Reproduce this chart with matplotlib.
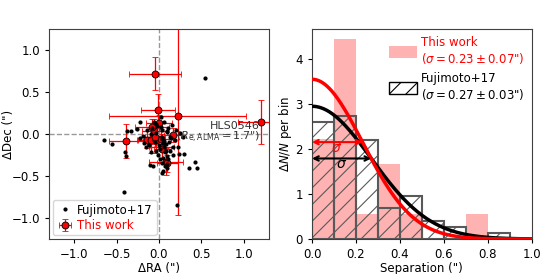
import numpy as np
import matplotlib
matplotlib.use("Agg")
import matplotlib.pyplot as plt
from matplotlib.patches import Patch

# ---------------- data ----------------
# Fujimoto+17 offsets (RA, Dec) in arcsec
fuji_ra = [0.54, -0.41, 0.21, -0.65, -0.56, -0.40, -0.39, -0.22, -0.38, -0.33,
           -0.26, -0.11, -0.07, 0.03, 0.05, 0.09, 0.25, 0.28, 0.23, 0.24,
           0.30, 0.36, 0.43, 0.45, 0.15, 0.11, 0.06, -0.06, -0.19, -0.23,
           -0.18, -0.12, -0.09, -0.03, 0.01, 0.07, 0.09, 0.11, 0.13, 0.17,
           0.03, 0.05, -0.03, -0.08, -0.14, 0.09, 0.13, 0.19, 0.00, 0.03,
           0.07, -0.02, 0.04, 0.06, 0.08, -0.05, 0.02, 0.10, 0.12, -0.10,
           0.05, 0.01, -0.01, 0.14, 0.20, -0.15, 0.06, 0.02, 0.08, -0.04,
           0.16, 0.10, 0.04]
fuji_dec = [0.67, -0.69, -0.85, -0.07, -0.12, -0.22, -0.26, 0.14, 0.04, 0.04,
            0.06, -0.37, -0.38, -0.46, -0.44, -0.41, 0.01, -0.04, -0.15, -0.24,
            -0.24, -0.41, -0.33, -0.41, 0.11, 0.07, 0.14, 0.14, -0.02, -0.05,
            -0.11, -0.13, -0.22, -0.20, -0.18, -0.22, -0.26, -0.30, -0.20, -0.15,
            -0.03, -0.11, 0.01, 0.07, 0.05, 0.03, -0.03, -0.07, -0.13, -0.34,
            -0.38, 0.10, 0.05, -0.08, -0.12, -0.10, 0.20, 0.02, -0.10, 0.00,
            -0.28, -0.30, -0.25, -0.05, 0.05, -0.16, -0.16, 0.08, -0.20, 0.12,
            -0.25, -0.36, -0.06]

# This work offsets with errors
tw_ra = [-0.05, -0.015, 0.22, 1.20, -0.39, 0.16, 0.00, -0.055, -0.145, -0.10,
         -0.04, 0.02, 0.03, 0.04, 0.08, -0.05, -0.08, 0.10]
tw_dec = [0.72, 0.29, 0.22, 0.14, -0.08, -0.01, 0.13, 0.03, -0.07, -0.075,
          -0.075, -0.06, -0.15, -0.18, -0.33, -0.03, 0.08, -0.35]
tw_raerr = [0.31, 0.20, 0.81, 0.27, 0.20, 0.10, 0.15, 0.15, 0.12, 0.15,
            0.10, 0.12, 0.15, 0.10, 0.20, 0.12, 0.20, 0.12]
tw_decerr = [0.20, 0.19, 1.19, 0.26, 0.20, 0.08, 0.10, 0.15, 0.10, 0.15,
             0.15, 0.12, 0.15, 0.12, 0.16, 0.12, 0.10, 0.10]

# Histograms of separations
bin_edges = [0.0, 0.1, 0.2, 0.3, 0.4, 0.5, 0.6, 0.7, 0.8, 0.9, 1.0]
tw_counts = [4, 8, 1, 3, 1, 0, 0, 1, 0, 0]
fuji_counts = [19, 20, 16, 5, 7, 3, 2, 0, 1, 0]

# Fitted profiles (peak value, sigma)
tw_peak, tw_sigma = 3.55, 0.23
fuji_peak, fuji_sigma = 2.95, 0.27

# ---------------- figure ----------------
plt.rcParams['font.family'] = ['DejaVu Sans']
plt.rcParams['hatch.linewidth'] = 0.8
fs = 8.5
fig = plt.figure(figsize=(5.48, 2.74), dpi=100)
ax1 = fig.add_axes([49/548, 35/274, 220/548, 210/274])
ax2 = fig.add_axes([312/548, 35/274, 219.5/548, 210/274])

# ---- left panel ----
ax1.axvline(0, color='0.6', ls='--', lw=1, zorder=0)
ax1.axhline(0, color='0.6', ls='--', lw=1, zorder=0)
ax1.plot(fuji_ra, fuji_dec, 'o', color='k', ms=2.0, ls='none', zorder=3,
         label='Fujimoto+17')
ax1.errorbar(tw_ra, tw_dec, xerr=tw_raerr, yerr=tw_decerr, fmt='o', color='red',
             mec='k', mew=0.6, ms=5, ecolor='red', elinewidth=0.9, capsize=2.2,
             capthick=0.9, zorder=2, label='This work')
ax1.set_xlim(-1.3, 1.3)
ax1.set_ylim(-1.25, 1.25)
ax1.set_xticks([-1.0, -0.5, 0.0, 0.5, 1.0])
ax1.set_yticks([-1.0, -0.5, 0.0, 0.5, 1.0])
ax1.tick_params(labelsize=fs, length=3)
ax1.set_xlabel('ΔRA (")', fontsize=fs, labelpad=1)
ax1.set_ylabel('ΔDec (")', fontsize=fs)
ax1.yaxis.set_label_coords(-0.155, 0.5)
ax1.text(1.19, 0.01, 'HLS0546\n' + r'($R_{\rm e,ALMA}=1.7$")', ha='right',
         va='center', fontsize=8, color='0.2', linespacing=0.95, zorder=4)
leg1 = ax1.legend(loc='lower left', fontsize=fs, handletextpad=0.3,
                  borderpad=0.3, labelspacing=0.2, handlelength=1.5,
                  borderaxespad=0.3)
leg1.get_texts()[1].set_color('red')
for sp in ax1.spines.values():
    sp.set_color('0.25')

# ---- right panel ----
edges = np.array(bin_edges)
widths = np.diff(edges)
tw_h = np.array(tw_counts) / (np.sum(tw_counts) * widths)
fu_h = np.array(fuji_counts) / (np.sum(fuji_counts) * widths)
ax2.bar(edges[:-1], tw_h, width=widths, align='edge', color='red', alpha=0.3,
        lw=0, zorder=1)
ax2.bar(edges[:-1], fu_h, width=widths, align='edge', fill=False,
        edgecolor='0.35', hatch='//', lw=1.5, zorder=2)

xx = np.linspace(0, 1, 300)
ax2.plot(xx, tw_peak * np.exp(-xx**2 / (2 * tw_sigma**2)), color='red', lw=2.5,
         zorder=4)
ax2.plot(xx, fuji_peak * np.exp(-xx**2 / (2 * fuji_sigma**2)), color='k', lw=2.5,
         zorder=3)

y_tw = tw_peak * np.exp(-0.5)
y_fu = fuji_peak * np.exp(-0.5)
ax2.annotate('', xy=(tw_sigma, y_tw), xytext=(0.0, y_tw),
             arrowprops=dict(arrowstyle='<->', color='red', lw=1.5,
                             shrinkA=0, shrinkB=0, mutation_scale=8), zorder=5)
ax2.annotate('', xy=(fuji_sigma, y_fu), xytext=(0.0, y_fu),
             arrowprops=dict(arrowstyle='<->', color='k', lw=1.5,
                             shrinkA=0, shrinkB=0, mutation_scale=8), zorder=5)
ax2.text(0.111, y_tw - 0.13, r'$\sigma$', color='red', fontsize=10,
         ha='center', va='center', zorder=6)
ax2.text(0.134, y_fu - 0.13, r'$\sigma$', color='k', fontsize=10,
         ha='center', va='center', zorder=6)

ax2.set_xlim(0, 1.0)
ax2.set_ylim(0, max(tw_h.max(), fu_h.max()) * 1.05)
ax2.set_xticks([0.0, 0.2, 0.4, 0.6, 0.8, 1.0])
ax2.set_yticks([0, 1, 2, 3, 4])
ax2.tick_params(labelsize=fs, length=3)
ax2.set_xlabel('Separation (")', fontsize=fs, labelpad=1)
ax2.set_ylabel(r'$\Delta N/N$ per bin', fontsize=fs)
ax2.yaxis.set_label_coords(-0.08, 0.5)
for sp in ax2.spines.values():
    sp.set_color('0.25')

h1 = Patch(facecolor='red', alpha=0.3, lw=0)
h2 = Patch(facecolor='white', edgecolor='k', hatch='//', lw=1)
leg2 = ax2.legend([h1, h2],
                  ['This work\n' + r'($\sigma=0.23\pm0.07$")',
                   'Fujimoto+17\n' + r'($\sigma=0.27\pm0.03$")'],
                  loc='upper right', frameon=False, fontsize=fs,
                  handlelength=2.4, handleheight=1.2, handletextpad=0.3,
                  labelspacing=0.45, borderaxespad=0.2)
leg2.get_texts()[0].set_color('red')

fig.savefig('out.png', dpi=100)
